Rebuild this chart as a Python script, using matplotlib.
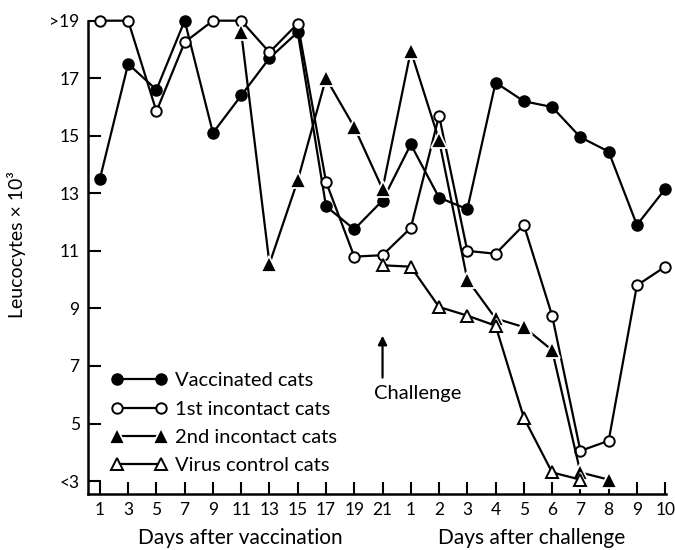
import numpy as np
import matplotlib
matplotlib.use("Agg")
import matplotlib.pyplot as plt

plt.rcParams['font.family'] = ['Lato', 'DejaVu Sans']

nan = np.nan
# x tick labels: days after vaccination, then days after challenge
day_labels = ['1', '3', '5', '7', '9', '11', '13', '15', '17', '19', '21',
              '1', '2', '3', '4', '5', '6', '7', '8', '9', '10']
x = np.arange(len(day_labels))

vaccinated = [13.5, 17.5, 16.6, 19.0, 15.1, 16.4, 17.7, 18.6, 12.55, 11.75, 12.75,
              14.7, 12.85, 12.45, 16.85, 16.2, 16.0, 14.95, 14.45, 11.9, 13.15]
first_incontact = [19.0, 19.0, 15.85, 18.25, 19.0, 19.0, 17.9, 18.9, 13.4, 10.8, 10.85,
                   11.8, 15.7, 11.0, 10.9, 11.9, 8.75, 4.05, 4.4, 9.8, 10.45]
second_incontact = [nan, nan, nan, nan, nan, 18.6, 10.55, 13.45, 17.0, 15.3, 13.15,
                    17.95, 14.85, 10.0, 8.65, 8.35, 7.55, 3.3, 3.05, nan, nan]
virus_control = [nan, nan, nan, nan, nan, nan, nan, nan, nan, nan, 10.5,
                 10.45, 9.05, 8.75, 8.4, 5.2, 3.3, 3.05, nan, nan, nan]

ytick_vals = [3, 5, 7, 9, 11, 13, 15, 17, 19]
ytick_labels = ['<3', '5', '7', '9', '11', '13', '15', '17', '>19']

fig = plt.figure(figsize=(6.75, 5.5), dpi=100)
ax = fig.add_axes([0.1304, 0.1018, 0.8563, 0.8606])

lw = 1.6
ax.plot(x, vaccinated, '-o', color='k', lw=lw, ms=8, mfc='k', mec='k',
        label='Vaccinated cats', clip_on=False, zorder=3)
ax.plot(x, first_incontact, '-o', color='k', lw=lw, ms=7.5, mfc='white', mec='k', mew=1.4,
        label='1st incontact cats', clip_on=False, zorder=3)
ax.plot(x, second_incontact, '-^', color='k', lw=lw, ms=11.5, mfc='k', mec='white', mew=1.3,
        label='2nd incontact cats', clip_on=False, zorder=3)
# white halo behind the open triangles, like the gaps in the original
ax.plot(x, virus_control, '^', color='white', ms=12, clip_on=False, zorder=3)
ax.plot(x, virus_control, '-^', color='k', lw=lw, ms=8.5, mfc='white', mec='k', mew=1.4,
        label='Virus control cats', clip_on=False, zorder=3)

ax.set_xlim(-0.42, 20.03)
ax.set_ylim(2.55, 19)
ax.set_xticks(x)
ax.set_xticklabels(day_labels)
ax.set_yticks(ytick_vals)
ax.set_yticklabels(ytick_labels)

for s in ['top', 'right']:
    ax.spines[s].set_visible(False)
for s in ['left', 'bottom']:
    ax.spines[s].set_linewidth(1.8)
ax.tick_params(direction='in', length=9, width=1.5, labelsize=12.5, pad=6)

# challenge marker
ax.annotate('', xy=(10, 8.15), xytext=(10, 6.5),
            arrowprops=dict(arrowstyle='-|>', color='k', lw=1.6, mutation_scale=13))
ax.text(9.7, 6.05, 'Challenge', ha='left', va='center', fontsize=14.5)

ax.legend(loc='upper left', bbox_to_anchor=(0.0405, 0.257), frameon=False, numpoints=2,
          handlelength=2.75, handletextpad=0.42, labelspacing=0.55, borderpad=0,
          borderaxespad=0, fontsize=14.5)

fig.text(0.3556, 0.022, 'Days after vaccination', ha='center', va='center', fontsize=15)
fig.text(0.788, 0.022, 'Days after challenge', ha='center', va='center', fontsize=15)
fig.text(0.025, 0.555, 'Leucocytes \u00d7 10\u00b3', rotation=90, ha='center', va='center',
         fontsize=14)

fig.savefig('out.png', dpi=100)
